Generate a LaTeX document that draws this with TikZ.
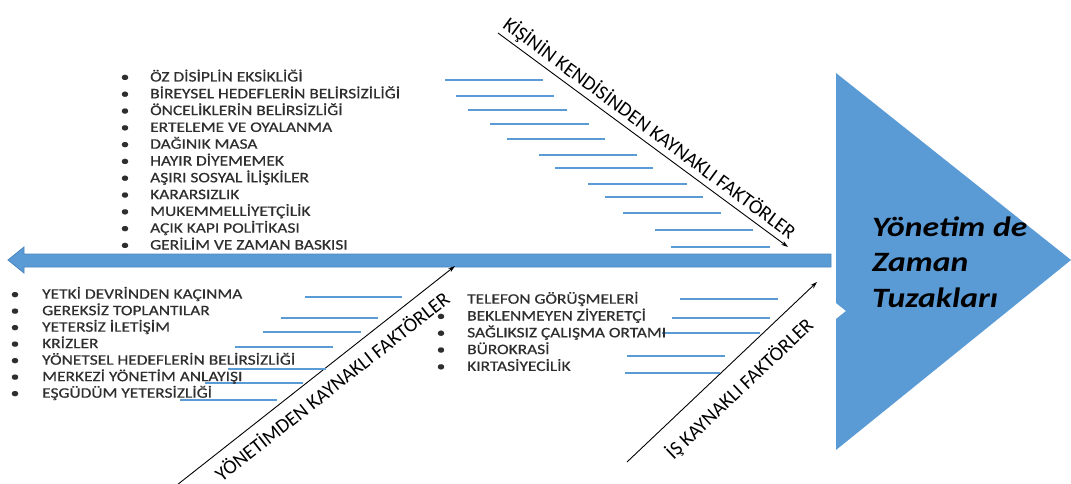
\documentclass[tikz,border=0pt]{standalone}
\usepackage{fontspec}
\setmainfont{Carlito}[FakeStretch=1.2]
\newfontfamily\itemfont{Carlito}[FakeStretch=1.2, FakeBold=0.6]
\newfontfamily\ribfont{Carlito}
\usetikzlibrary{arrows.meta}
\definecolor{fishblue}{HTML}{5B9BD5}
\definecolor{fishedge}{HTML}{4A86C0}
\definecolor{itemgray}{HTML}{2E2E2E}
\begin{document}
\begin{tikzpicture}[x=1pt,y=-1pt,
  item/.style={anchor=base west, inner sep=0pt, font=\itemfont\fontsize{14.5}{17}\selectfont, text=itemgray},
  dotmark/.style={anchor=base, inner sep=0pt, font=\itemfont\fontsize{14.5}{17}\selectfont, text=itemgray},
  rib/.style={draw=black, line width=0.9pt, -{Stealth[length=7pt,width=4.5pt]}},
  ribtext/.style={font=\ribfont\fontsize{20}{22}\selectfont, sloped},
  causeline/.style={draw=fishblue, line width=1.1pt},
]
\path[use as bounding box] (0,0) rectangle (1071,484);

% spine (main arrow pointing left)
\coordinate (spineTip) at (8,260);
\filldraw[fill=fishblue, draw=fishedge, line width=0.8pt]
  (spineTip) -- (24,247) -- (24,254) -- (831,254) -- (831,267) -- (24,267) -- (24,273) -- cycle;

% head of the fish
\fill[fishblue] (836,73) -- (1071,260) -- (836,450) -- (836,319) -- (846,311) -- (836,303) -- cycle;
\node[anchor=west, inner sep=0pt, align=left, font=\fontsize{28}{35.5}\selectfont\bfseries\itshape]
  (head) at (872,262) {Yönetim de\\Zaman\\Tuzakları};

% ribs
\coordinate (kA) at (498,33);  \coordinate (kB) at (788,247);
\coordinate (yA) at (177,485); \coordinate (yB) at (455,266);
\coordinate (iA) at (627,462); \coordinate (iB) at (817,282);
\draw[rib] (kA) -- (kB) node[ribtext, above, pos=0.495, inner sep=3pt] (kLabel) {KİŞİNİN KENDİSİNDEN KAYNAKLI FAKTÖRLER};
\draw[rib] (yA) -- (yB) node[ribtext, below, pos=0.516, inner sep=9pt] (yLabel) {YÖNETİMDEN KAYNAKLI FAKTÖRLER};
\draw[rib] (iA) -- (iB) node[ribtext, below, pos=0.505, inner sep=14pt] (iLabel) {İŞ KAYNAKLI FAKTÖRLER};

% short blue lines beside the causes
\foreach \xa/\xb/\yy [count=\n] in {445/543/80, 456/554/96, 468/567/110, 490/589/124, 507/605/139,
    539/637/155, 555/653/168, 588/687/184, 605/703/197, 623/721/213, 655/753/230, 671/770/247}
  \draw[causeline] (\xa,\yy) coordinate (ka\n) -- (\xb,\yy) coordinate (kb\n);
\foreach \xa/\xb/\yy [count=\n] in {305/402/297, 281/378/318, 263/361/332, 235/333/347,
    228/326/369, 205/303/383, 180/277/400}
  \draw[causeline] (\xa,\yy) coordinate (ya\n) -- (\xb,\yy) coordinate (yb\n);
\foreach \xa/\xb/\yy [count=\n] in {680/778/299, 672/770/318, 662/760/333, 627/725/356, 625/720/373}
  \draw[causeline] (\xa,\yy) coordinate (ia\n) -- (\xb,\yy) coordinate (ib\n);

% personal causes
\foreach \t [count=\i] in {ÖZ DİSİPLİN EKSİKLİĞİ, BİREYSEL HEDEFLERİN BELİRSİZİLİĞİ,
    ÖNCELİKLERİN BELİRSİZLİĞİ, ERTELEME VE OYALANMA, DAĞINIK MASA, HAYIR DİYEMEMEK,
    AŞIRI SOSYAL İLİŞKİLER, KARARSIZLIK, MUKEMMELLİYETÇİLİK, AÇIK KAPI POLİTİKASI,
    GERİLİM VE ZAMAN BASKISI} {
  \node[dotmark] (kd\i) at (125,{81.5+16.8*(\i-1)}) {•};
  \node[item] (k\i) at (150,{81.5+16.8*(\i-1)}) {\t};
}

% management causes
\foreach \t [count=\i] in {YETKİ DEVRİNDEN KAÇINMA, GEREKSİZ TOPLANTILAR, YETERSİZ İLETİŞİM,
    KRİZLER, YÖNETSEL HEDEFLERİN BELİRSİZLİĞİ, MERKEZİ YÖNETİM ANLAYIŞI, EŞGÜDÜM YETERSİZLİĞİ} {
  \node[dotmark] (yd\i) at (15,{298.7+16.5*(\i-1)}) {•};
  \node[item] (y\i) at (42,{298.7+16.5*(\i-1)}) {\t};
}

% work causes
\foreach \t [count=\i] in {TELEFON GÖRÜŞMELERİ, BEKLENMEYEN ZİYERETÇİ, SAĞLIKSIZ ÇALIŞMA ORTAMI,
    BÜROKRASİ, KIRTASİYECİLİK} {
  \node[item] (i\i) at (467,{303.7+16.8*(\i-1)}) {\t};
}
\foreach \i in {2,...,5}
  \node[dotmark] (id\i) at (441,{303.7+16.8*(\i-1)}) {•};
\end{tikzpicture}
\end{document}
